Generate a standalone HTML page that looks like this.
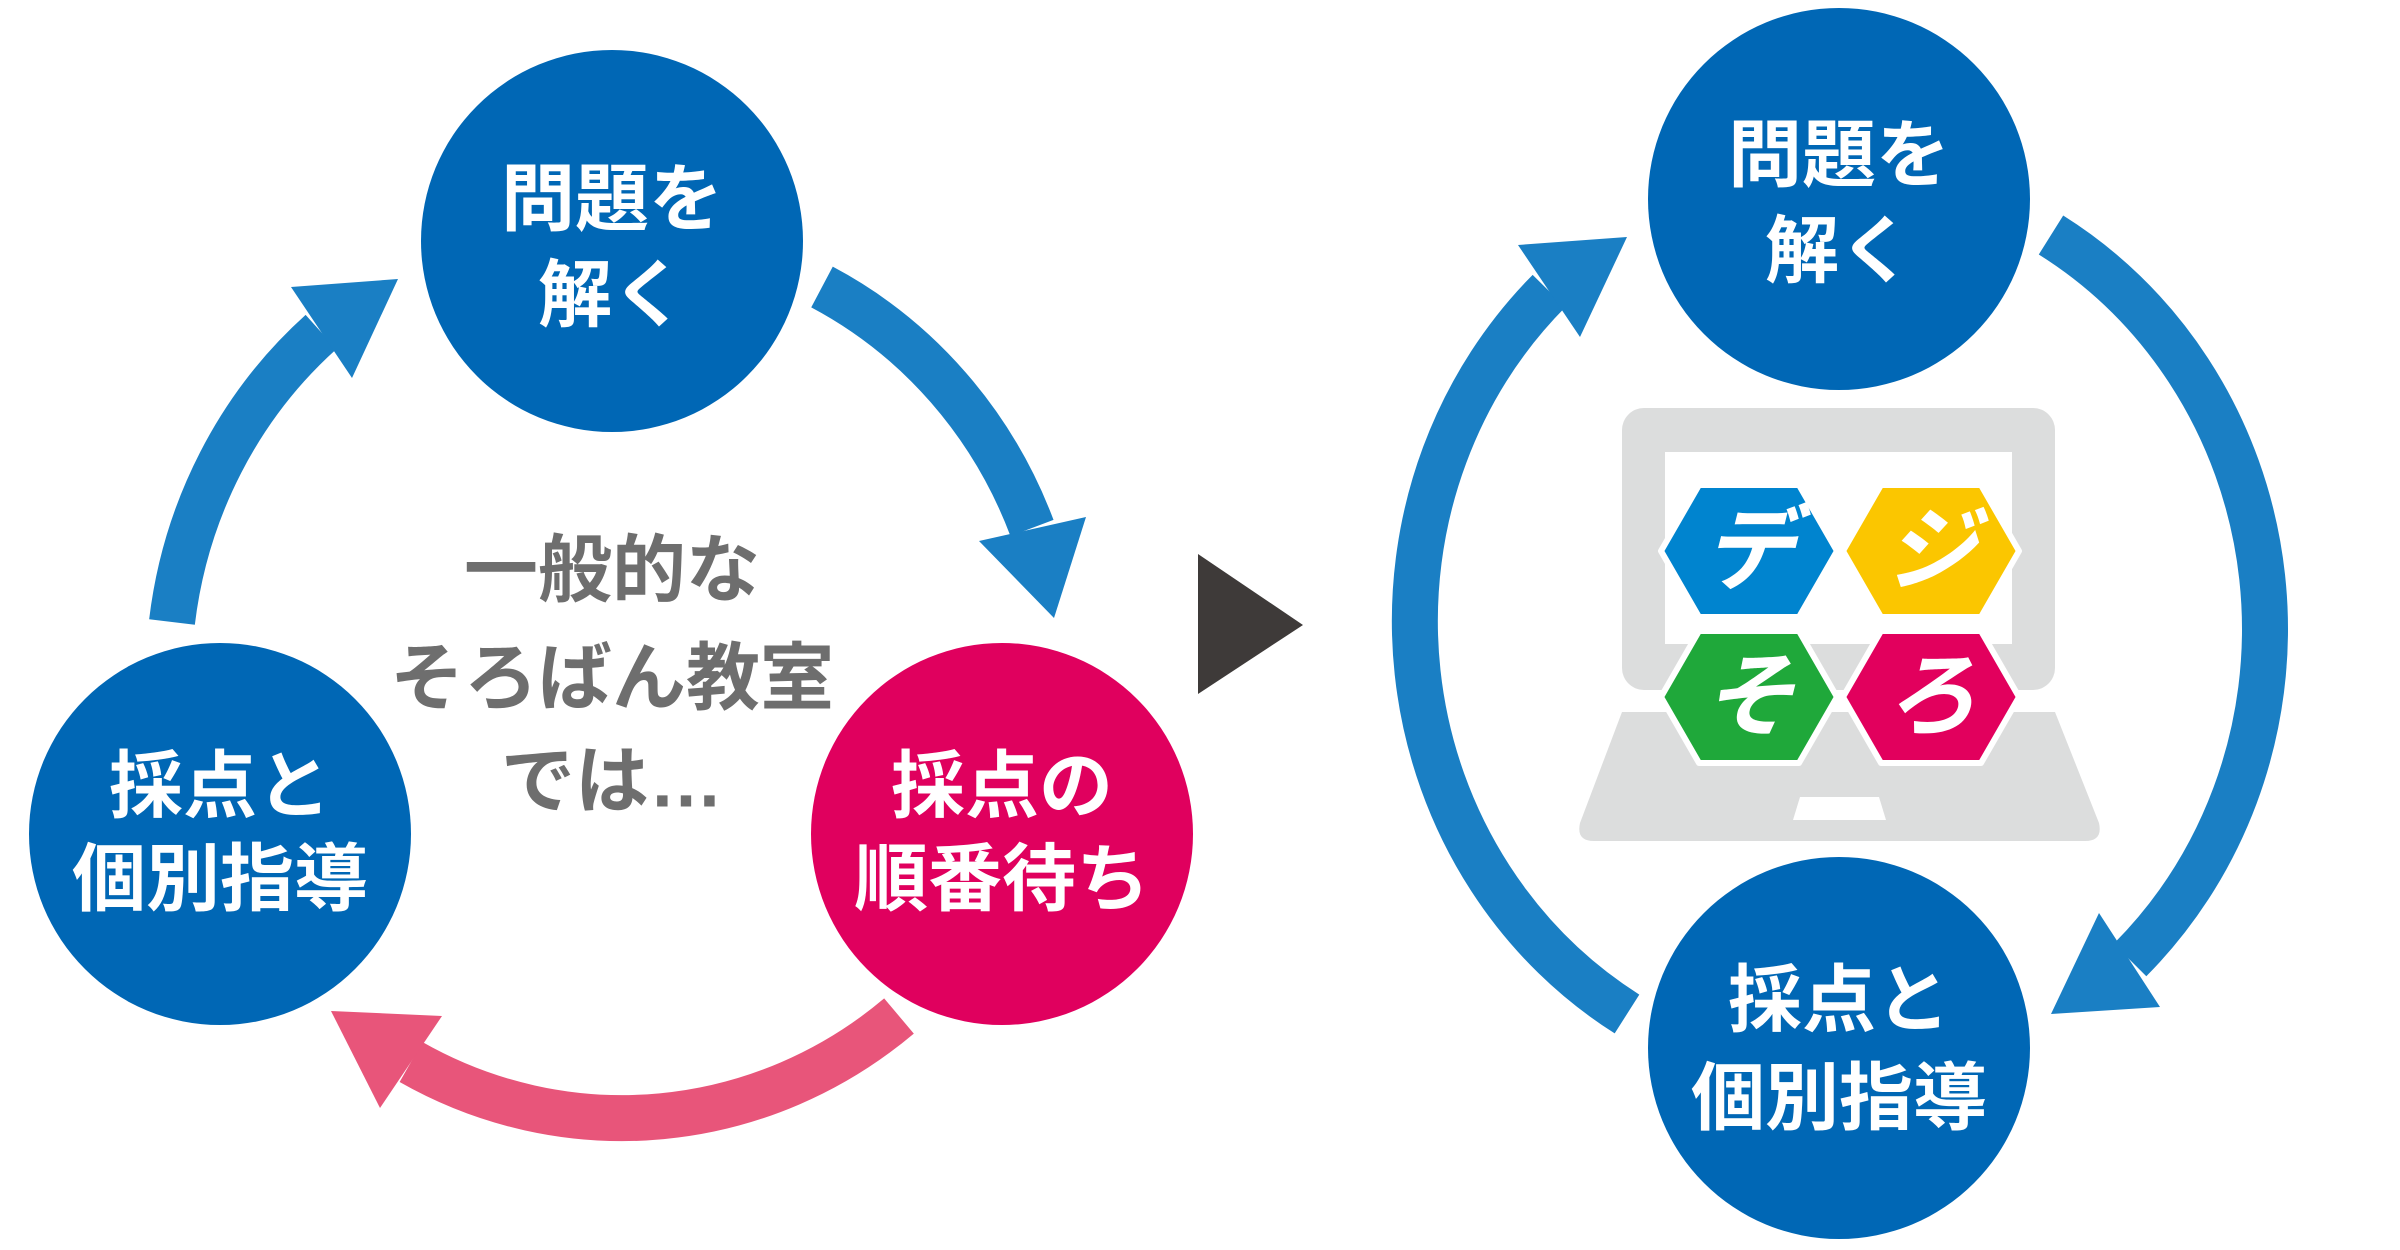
<!DOCTYPE html>
<html><head><meta charset="utf-8"><style>
html,body{margin:0;padding:0;background:#fff;}
svg{display:block}
text{font-family:"Liberation Sans","Noto Sans CJK JP",sans-serif;font-weight:bold;}
</style></head><body>
<svg width="2400" height="1250" viewBox="0 0 2400 1250" xmlns="http://www.w3.org/2000/svg">
<rect width="2400" height="1250" fill="#fff"/>
<!-- Left arrows -->
<g fill="none" stroke-width="46">
<path d="M172,622 A440,458 0 0 1 321,332" stroke="#1a7fc4"/>
<path d="M822,287 A440,458 0 0 1 1032,528" stroke="#1a7fc4"/>
<path d="M899,1016 A440,458 0 0 1 411,1062" stroke="#e8557a"/>
</g>
<polygon points="291,287 398,279 352,378" fill="#1a7fc4"/>
<polygon points="979,541 1086,517 1054,618" fill="#1a7fc4"/>
<polygon points="331,1011 442,1016 380,1108" fill="#e8557a"/>
<!-- Left circles -->
<circle cx="612" cy="241" r="191" fill="#0067b5"/>
<circle cx="220" cy="834" r="191" fill="#0067b5"/>
<circle cx="1002" cy="834" r="191" fill="#e0005e"/>
<g fill="#fff" font-size="74" text-anchor="middle" dominant-baseline="central">
<text x="612" y="199">問題を</text>
<text x="612" y="295">解く</text>
<text x="220" y="786">採点と</text>
<text x="220" y="879">個別指導</text>
<text x="1002" y="786">採点の</text>
<text x="1002" y="879">順番待ち</text>
</g>
<g fill="#6e6e6e" font-size="74" text-anchor="middle" dominant-baseline="central">
<text x="612" y="570">一般的な</text>
<text x="612" y="678">そろばん教室</text>
<text x="612" y="781">では…</text>
</g>
<!-- Middle triangle -->
<polygon points="1198,554 1303,625 1198,694" fill="#3e3a39"/>
<!-- Right ring -->
<g fill="none" stroke="#1a7fc4" stroke-width="46">
<path d="M1627,1014 A442,460 0 0 1 1549,291"/>
<path d="M2051,235 A442,460 0 0 1 2130,960"/>
</g>
<polygon points="1518,245 1627,237 1580,337" fill="#1a7fc4"/>
<polygon points="2099,913 2160,1007 2051,1014" fill="#1a7fc4"/>
<!-- Laptop -->
<rect x="1622" y="408" width="433" height="282" rx="22" fill="#dcdddd"/>
<rect x="1665" y="452" width="347" height="192" fill="#fff"/>
<path d="M1622,712 L2055,712 L2099,823 Q2103,841 2085,841 L1594,841 Q1576,841 1580,823 Z" fill="#dcdddd"/>
<polygon points="1800,797 1879,797 1886,820 1793,820" fill="#fff"/>
<!-- Hexagons -->
<g stroke="#fff" stroke-width="6" stroke-linejoin="round">
<polygon points="1661,551 1699,485 1799,485 1837,551 1799,617 1699,617" fill="#0084cf"/>
<polygon points="1843,551 1881,485 1981,485 2019,551 1981,617 1881,617" fill="#fbc600"/>
<polygon points="1661,697 1699,631 1799,631 1837,697 1799,763 1699,763" fill="#1fa83a"/>
<polygon points="1843,697 1881,631 1981,631 2019,697 1981,763 1881,763" fill="#e2005d"/>
</g>
<g fill="#fff" font-size="92" text-anchor="middle" dominant-baseline="central" font-style="italic">
<text x="1749" y="551">デ</text>
<text x="1931" y="551">ジ</text>
<text x="1749" y="697">そ</text>
<text x="1931" y="697">ろ</text>
</g>
<!-- Right circles -->
<circle cx="1839" cy="199" r="191" fill="#0067b5"/>
<circle cx="1839" cy="1048" r="191" fill="#0067b5"/>
<g fill="#fff" font-size="74" text-anchor="middle" dominant-baseline="central">
<text x="1839" y="155">問題を</text>
<text x="1839" y="251">解く</text>
<text x="1839" y="1000">採点と</text>
<text x="1839" y="1098">個別指導</text>
</g>
</svg>
</body></html>
